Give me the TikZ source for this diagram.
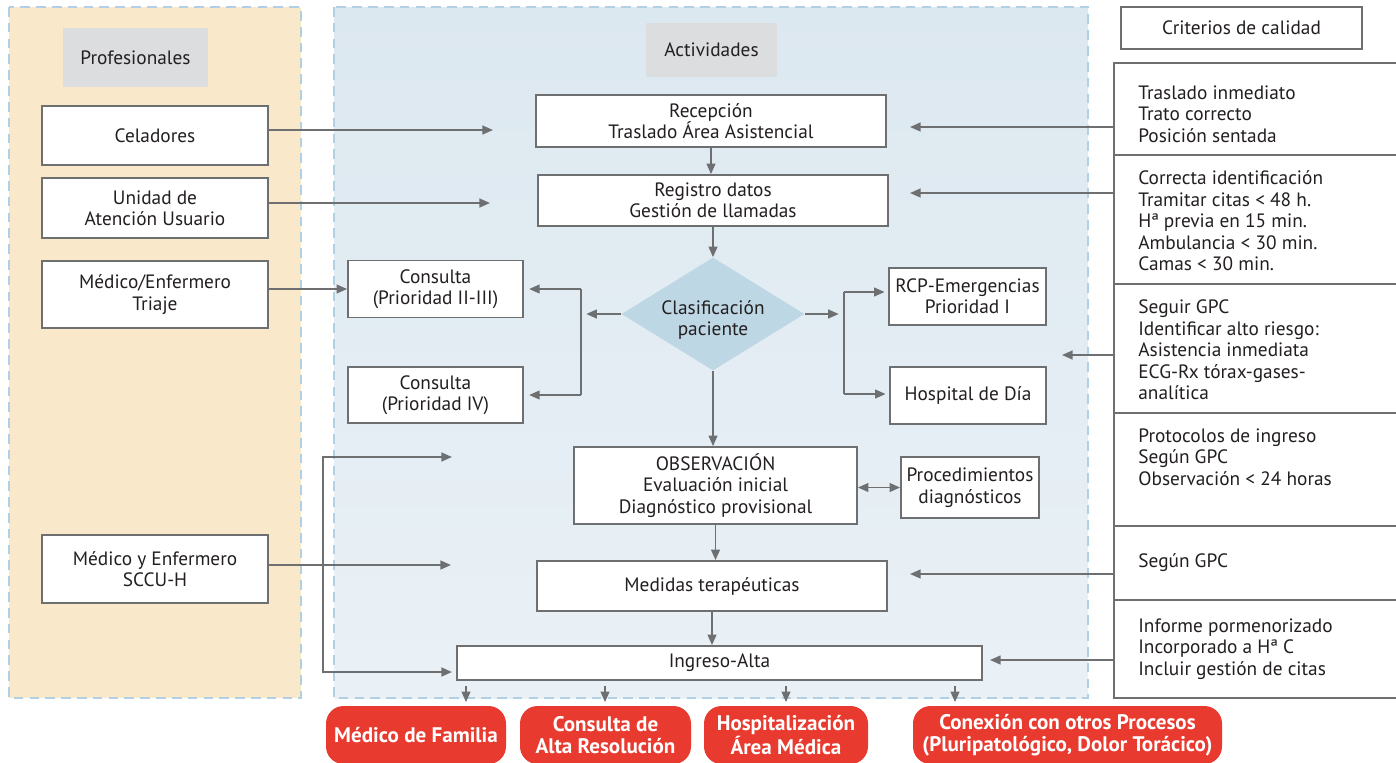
\documentclass[tikz,border=0pt]{standalone}
\usepackage{fontspec}
\setmainfont{PT Sans}
\usetikzlibrary{arrows.meta,fit,shapes.geometric}
\definecolor{lineGray}{RGB}{110,111,113}
\definecolor{textGray}{RGB}{35,31,32}
\definecolor{paleSand}{RGB}{249,232,201}
\definecolor{paleBlueTop}{RGB}{220,232,240}
\definecolor{paleBlueBot}{RGB}{234,241,246}
\definecolor{dashBlue}{RGB}{178,208,228}
\definecolor{headGray}{RGB}{220,221,223}
\definecolor{diamondBlue}{RGB}{190,215,228}
\definecolor{pillRed}{RGB}{233,58,47}
\newcommand{\bodyFont}[0]{\fontsize{11}{12.2}\selectfont}
\newcommand{\pillFont}[0]{\fontsize{12}{12.2}\selectfont\bfseries}

\begin{document}
\begin{tikzpicture}[x=0.02cm, y=-0.02cm, font=\bodyFont, text=textGray]
  \tikzset{
    sz/.style 2 args={minimum width=#1*0.02cm, minimum height=#2*0.02cm},
    panel/.style={draw=dashBlue, line width=0.9pt, dash pattern=on 5.5pt off 3.5pt},
    head/.style={fill=headGray, inner sep=0pt},
    box/.style={draw=lineGray, line width=1pt, fill=white, inner sep=0pt, align=center},
    crit/.style={draw=lineGray, line width=0.8pt, fill=white, inner sep=0pt},
    critText/.style={anchor=west, align=left, inner sep=0pt},
    pill/.style={fill=pillRed, text=white, rounded corners=10pt, inner sep=0pt, align=center, font=\pillFont},
    flow/.style={draw=lineGray, line width=1pt, -{Triangle[length=6pt,width=5pt]}},
    link/.style={draw=lineGray, line width=1pt}
  }
  \useasboundingbox (0,0) rectangle (1396,762);
  \fill[white] (0,0) rectangle (1396,762);

  \draw[panel, fill=paleSand] (9,7) rectangle (301,698);
  \shade[top color=paleBlueTop, bottom color=paleBlueBot] (334,7) rectangle (1088,698);
  \draw[panel] (334,7) rectangle (1088,698);

  \node[head, sz={145}{59}] (prof) at (135.5,57.5) {Profesionales};
  \node[head, sz={131}{54}] (act) at (711.5,50) {Actividades};
  \node[box, line width=0.8pt, sz={241}{42}] (crit) at (1241.5,28) {Criterios de calidad};

  \node[box, sz={226}{59}] (cel) at (155,135.5) {Celadores};
  \node[box, sz={226}{60}] (uau) at (155,208) {Unidad de\\Atención Usuario};
  \node[box, sz={226}{67}] (triaje) at (155,294.5) {Médico/Enfermero\\Triaje};
  \node[box, sz={226}{68}] (sccu) at (155,569) {Médico y Enfermero\\SCCU-H};

  \node[box, sz={350}{52}] (recep) at (711,121) {Recepción\\Traslado Área Asistencial};
  \node[box, sz={350}{51}] (reg) at (713,200.5) {Registro datos\\Gestión de llamadas};
  \node[diamond, fill=diamondBlue, shape aspect=1.6, sz={183}{113}, inner sep=0pt] (clas) at (713,314) {};
  \node[align=center, inner sep=0pt] (clasText) at (713,320) {Clasificación\\paciente};
  \node[box, sz={175}{57}] (c23) at (435.5,289) {Consulta\\(Prioridad II-III)};
  \node[box, sz={175}{56}] (c4) at (435.5,395) {Consulta\\(Prioridad IV)};
  \node[box, sz={157}{57}] (rcp) at (967.5,296.5) {RCP-Emergencias\\Prioridad I};
  \node[box, sz={156}{57}] (hdia) at (968,395.5) {Hospital de Día};
  \node[box, sz={283}{77}] (obs) at (715.5,485.5) {OBSERVACIÓN\\Evaluación inicial\\Diagnóstico provisional};
  \node[box, sz={138}{61}] (proc) at (970,487.5) {Procedimientos\\diagnósticos};
  \node[box, sz={350}{50}] (med) at (712,586) {Medidas terapéuticas};
  \node[box, sz={525}{34}] (ing) at (719.5,663) {Ingreso-Alta};

  \node[crit, fit={(1114,63) (1400,155)}] (q1) {};
  \node[crit, fit={(1114,155) (1400,284)}] (q2) {};
  \node[crit, fit={(1114,284) (1400,413)}] (q3) {};
  \node[crit, fit={(1114,413) (1400,526)}] (q4) {};
  \node[crit, fit={(1114,526) (1400,600)}] (q5) {};
  \node[crit, fit={(1114,600) (1400,698)}] (q6) {};
  \node[critText] (q1t) at (1138,114) {Traslado inmediato\\Trato correcto\\Posición sentada};
  \node[critText] (q2t) at (1138,221) {Correcta identificación\\Tramitar citas < 48 h.\\Hª previa en 15 min.\\Ambulancia < 30 min.\\Camas < 30 min.};
  \node[critText] (q3t) at (1138,350) {Seguir GPC\\Identificar alto riesgo:\\Asistencia inmediata\\ECG-Rx tórax-gases-\\analítica};
  \node[critText] (q4t) at (1138,457) {Protocolos de ingreso\\Según GPC\\Observación < 24 horas};
  \node[critText] (q5t) at (1138,563) {Según GPC};
  \node[critText] (q6t) at (1138,649) {Informe pormenorizado\\Incorporado a Hª C\\Incluir gestión de citas};

  \node[pill, sz={180}{58}] (mf) at (416,735) {Médico de Familia};
  \node[pill, sz={171}{58}] (car) at (605.5,735) {Consulta de\\Alta Resolución};
  \node[pill, sz={164}{58}] (ham) at (786,735) {Hospitalización\\Área Médica};
  \node[pill, sz={309}{58}] (cop) at (1067.5,735) {Conexión con otros Procesos\\(Pluripatológico, Dolor Torácico)};

  \coordinate (celEnd) at (493,130);
  \coordinate (uauEnd) at (490,203);
  \coordinate (sccuEnd) at (451,565);
  \coordinate (loopTop) at (452,457);
  \coordinate (loopBot) at (452,672);
  \draw[flow] (cel.east |- celEnd) -- (celEnd);
  \draw[flow] (uau.east |- uauEnd) -- (uauEnd);
  \draw[flow] (triaje.east |- c23.west) -- (c23.west);
  \draw[flow] (sccu.east |- sccuEnd) -- (sccuEnd);
  \draw[flow, {Triangle[length=6pt,width=5pt]}-{Triangle[length=6pt,width=5pt]}] (loopTop) -| (323,560) |- (loopBot);

  \draw[flow] (recep.south) -- (recep.south |- reg.north);
  \draw[flow] (reg.south -| clas.north) -- (clas.north);
  \draw[flow] (clas.south) -- (clas.south |- obs.north);
  \draw[flow] (obs.south) -- (obs.south |- med.north);
  \draw[flow] (med.south) -- (med.south |- ing.north);
  \draw[flow, {Triangle[length=6pt,width=5pt]}-{Triangle[length=6pt,width=5pt]}] (obs.east |- proc.west) -- (proc.west);

  \coordinate (leftBus) at (581,314);
  \coordinate (rightBus) at (844,314);
  \draw[flow, shorten >=3pt] (clas.west) -- (leftBus);
  \draw[link] (leftBus |- c23.east) -- (leftBus |- c4.east);
  \draw[flow, shorten >=3pt] (leftBus |- c23.east) -- (c23.east);
  \draw[flow, shorten >=3pt] (leftBus |- c4.east) -- (c4.east);
  \draw[flow, shorten >=3pt] (clas.east) -- (rightBus);
  \draw[link] (rightBus |- 0,292) -- (rightBus |- 0,394);
  \draw[flow, shorten >=2pt] (rightBus |- 0,292) -- (rcp.west |- 0,292);
  \draw[flow, shorten >=2pt] (rightBus |- 0,394) -- (hdia.west |- 0,394);

  \coordinate (q1End) at (910,127);
  \coordinate (q2End) at (910,193);
  \coordinate (q3End) at (1062,355);
  \coordinate (q5End) at (910,574);
  \coordinate (q6End) at (990,660);
  \draw[flow] (q1.west |- q1End) -- (q1End);
  \draw[flow] (q2.west |- q2End) -- (q2End);
  \draw[flow] (q3.west |- q3End) -- (q3End);
  \draw[flow] (q5.west |- q5End) -- (q5End);
  \draw[flow] (q6.west |- q6End) -- (q6End);

  \draw[flow, shorten <=3pt, shorten >=2pt] (ing.south -| 466,0) -- (mf.north -| 466,0);
  \draw[flow, shorten <=3pt, shorten >=2pt] (ing.south -| 605,0) -- (car.north -| 605,0);
  \draw[flow, shorten <=3pt, shorten >=2pt] (ing.south -| 786,0) -- (ham.north -| 786,0);
  \draw[flow, shorten <=3pt, shorten >=2pt] (ing.south -| 955,0) -- (cop.north -| 955,0);
\end{tikzpicture}
\end{document}
